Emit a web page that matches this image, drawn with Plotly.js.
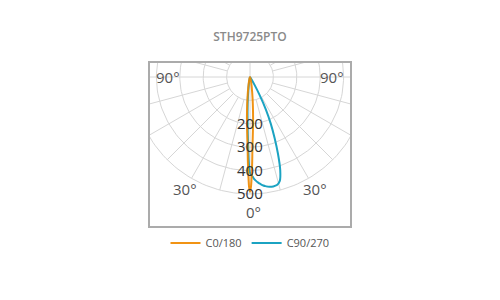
<!DOCTYPE html>
<html><head><meta charset="utf-8">
<script src="https://cdn.plot.ly/plotly-3.0.1.min.js"></script>
<style>html,body{margin:0;padding:0;background:#fff}#chart{width:500px;height:300px}</style>
</head><body><div id="chart"></div>
<script>
// Photometric data: gamma angles (deg from nadir) and intensities (cd/klm)
const gamma = [0,0.5,1,1.5,2,2.5,3,4,5,6,7,8,9,10,12,14,16,18,20,22,24,26,28,30,32,35,40,45,50,60,70,80,90];
const c0   = [490,470,420,360,300,265,235,190,148,115,88,68,52,40,24,14,9,6,4,3,2,1,1,0,0,0,0,0,0,0,0,0,0];
const c180 = [490,468,415,355,298,262,232,188,146,113,86,66,50,38,23,13,8,5,4,3,2,1,1,0,0,0,0,0,0,0,0,0,0];
const c90  = [410,415,420,426,432,438,442,450,456,462,467,471,474,476,478,476,462,418,350,280,218,155,90,40,15,4,0,0,0,0,0,0,0];
const c270 = [410,385,345,300,260,225,195,150,115,85,62,45,33,25,14,8,5,3,2,1,0,0,0,0,0,0,0,0,0,0,0,0,0];
const seriesNames = ['C0/180','C90/270'];
const radialTicks = [200,300,400,500];
const gridRings = [100,200,300,400,500];
const angleTickValues = [-90,-30,0,30,90];
const angleTickLabels = ['90°','30°','0°','30°','90°'];

const K = 117/500;          // px per cd unit
const RMAX = 500;
const rad = d => d*Math.PI/180;
const px = (r,a) => r*Math.sin(rad(a));
const py = (r,a) => -r*Math.cos(rad(a));

function curve(left, right){
  const xs=[], ys=[];
  for(let i=gamma.length-1;i>=0;i--){ xs.push(px(left[i],-gamma[i])); ys.push(py(left[i],-gamma[i])); }
  for(let i=1;i<gamma.length;i++){ xs.push(px(right[i],gamma[i])); ys.push(py(right[i],gamma[i])); }
  return {xs, ys};
}

// grid
const gx=[], gy=[];
gridRings.forEach(r=>{
  for(let a=0;a<=360;a+=2){ gx.push(px(r,a)); gy.push(py(r,a)); }
  gx.push(null); gy.push(null);
});
for(let a=0;a<360;a+=15){
  const inner = (a%90===0)?0:gridRings[0];
  gx.push(px(inner,a), px(RMAX,a), null);
  gy.push(py(inner,a), py(RMAX,a), null);
}

const orange = curve(c180, c0);
const cyan = curve(c270, c90);

const traces = [
  {x:gx, y:gy, mode:'lines', line:{color:'#d6d6d6', width:1}, hoverinfo:'skip', showlegend:false},
  {x:cyan.xs, y:cyan.ys, mode:'lines', name:seriesNames[1], legendrank:2,
   line:{color:'#1ba3c2', width:2, shape:'spline', smoothing:0.6}},
  {x:orange.xs, y:orange.ys, mode:'lines', name:seriesNames[0], legendrank:1,
   line:{color:'#f08a00', width:2, shape:'spline', smoothing:0.6}, opacity:0.92}
];

const annotations = [];
radialTicks.forEach(r=>{
  annotations.push({x:0, y:-r, xref:'x', yref:'y', text:String(r), showarrow:false,
    font:{family:'Open Sans', size:15, color:'#333'}, xanchor:'center', yanchor:'middle', yshift:1});
});
angleTickValues.forEach((v,i)=>{
  const R = Math.abs(v)===90 ? 352 : (v===0 ? 577 : 552);
  annotations.push({x:px(R,v), y:py(R,v), xref:'x', yref:'y', text:angleTickLabels[i], showarrow:false,
    font:{family:'Open Sans', size:15, color:'#555'}, xanchor:'center', yanchor:'middle', xshift: v===0?3:0});
});

const axisCommon = {showline:true, mirror:true, linecolor:'#ababab', linewidth:2, showgrid:false,
  zeroline:false, showticklabels:false, ticks:'', fixedrange:true};

const layout = {
  width:500, height:300,
  paper_bgcolor:'#fff', plot_bgcolor:'#fff',
  margin:{l:150, r:150, t:63, b:74, autoexpand:false},
  title:{text:'STH9725PTO', x:0.5, xanchor:'center', y:1-37/300, yanchor:'middle',
    font:{family:'Open Sans', size:12, color:'#8a8a8a', weight:600}},
  xaxis:Object.assign({range:[-100/K, 100/K]}, axisCommon),
  yaxis:Object.assign({range:[-149/K, 14/K]}, axisCommon),
  showlegend:true,
  legend:{orientation:'h', x:0.5, xanchor:'center', y:-0.105, yanchor:'middle',
    font:{family:'Open Sans', size:11, color:'#555'}, itemwidth:30},
  annotations:annotations,
  font:{family:'Open Sans'}
};

Plotly.newPlot('chart', traces, layout, {staticPlot:true, displayModeBar:false});
</script>
</body></html>
